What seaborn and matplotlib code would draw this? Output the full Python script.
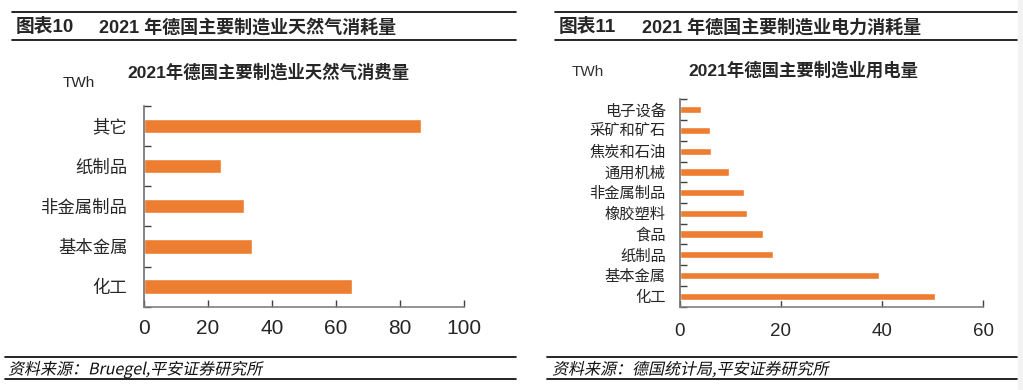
import matplotlib
matplotlib.use("Agg")
import matplotlib.pyplot as plt
import seaborn as sns
import pandas as pd
from matplotlib.lines import Line2D
from matplotlib.patches import PathPatch, Rectangle
from matplotlib.textpath import TextPath
from matplotlib.font_manager import FontProperties
from matplotlib.transforms import Affine2D, IdentityTransform
from matplotlib.ticker import FixedLocator

# data
gas_cats = ['其它', '纸制品', '非金属制品', '基本金属', '化工']
gas_vals = [86.5, 24.1, 31.3, 33.6, 64.9]

elec_cats = ['电子设备', '采矿和矿石', '焦炭和石油', '通用机械', '非金属制品',
             '橡胶塑料', '食品', '纸制品', '基本金属', '化工']
elec_vals = [4.3, 6.0, 6.2, 9.7, 12.8, 13.4, 16.4, 18.5, 39.4, 50.6]

sns.set_style("white")
plt.rcParams['font.family'] = ['Liberation Sans', 'Noto Sans CJK SC', 'DejaVu Sans']

ORANGE = '#ED7D31'

fig = plt.figure(figsize=(10.23, 3.9), dpi=100)


def fx(px):
    return px / 1023


def fy(py):
    return 1 - py / 390


def hline(x0, x1, y, lw=1.2):
    fig.add_artist(Line2D([fx(x0), fx(x1)], [fy(y), fy(y)], color='black', lw=lw,
                          transform=fig.transFigure))


def slanted_text(x, y, s, size_px):
    # fake italic for the CJK footer: skew the glyph outlines
    tp = TextPath((0, 0), s, size=size_px, prop=FontProperties(family='Noto Sans CJK SC'))
    tr = Affine2D().skew_deg(12, 0).translate(x, 390 - y - size_px * 0.38) + IdentityTransform()
    fig.add_artist(PathPatch(tp, transform=tr, facecolor='#111111', edgecolor='none'))


def style_axis(ax, n, xmax, step, lab_size, num_size, xpad, ypad):
    ax.set_ylim(n - 0.5, -0.5)
    ax.set_xlim(0, xmax)
    ax.set_xticks(range(0, xmax + 1, step))
    ax.yaxis.set_minor_locator(FixedLocator([i - 0.5 for i in range(n + 1)]))
    ax.tick_params(axis='y', which='major', length=0, pad=ypad, labelsize=lab_size)
    ax.tick_params(axis='y', which='minor', direction='in', length=5, width=1, color='#404040', left=True)
    ax.tick_params(axis='x', which='major', direction='in', length=5, width=1, color='#404040',
                   bottom=True, pad=xpad, labelsize=num_size)
    ax.set_xlabel('')
    ax.set_ylabel('')
    for s in ['top', 'right']:
        ax.spines[s].set_visible(False)
    ax.spines['left'].set_color('#707070')
    ax.spines['bottom'].set_color('#808080')
    ax.spines['left'].set_linewidth(1.2)
    ax.spines['bottom'].set_linewidth(1.2)


# left chart: natural gas
ax1 = fig.add_axes([fx(144), fy(306.7), fx(320), (306.7 - 105.7) / 390])
df1 = pd.DataFrame({'cat': gas_cats, 'val': gas_vals})
sns.barplot(data=df1, x='val', y='cat', orient='h', color=ORANGE, saturation=1,
            width=0.36, ax=ax1)
style_axis(ax1, len(gas_cats), 100, 20, 12.5, 15, 9, 12)

# right chart: electricity
ax2 = fig.add_axes([fx(679.7), fy(306.7), fx(303.3), (306.7 - 99.3) / 390])
df2 = pd.DataFrame({'cat': elec_cats, 'val': elec_vals})
sns.barplot(data=df2, x='val', y='cat', orient='h', color=ORANGE, saturation=1,
            width=0.35, ax=ax2)
style_axis(ax2, len(elec_cats), 60, 20, 11, 13.5, 12, 10)

# headers
hline(12, 516, 12)
hline(12, 516, 40)
hline(555, 1017, 12)
hline(555, 1017, 40)
fig.text(fx(16), fy(27.3), '图表10', fontsize=13.5, fontweight='bold', va='center')
fig.text(fx(99), fy(27.3), '2021 年德国主要制造业天然气消耗量', fontsize=13,
         fontweight='bold', va='center')
fig.text(fx(559), fy(27.3), '图表11', fontsize=13.5, fontweight='bold', va='center')
fig.text(fx(642), fy(27.3), '2021 年德国主要制造业电力消耗量', fontsize=13,
         fontweight='bold', va='center')

# chart titles and units
fig.text(fx(268), fy(71.7), '2021年德国主要制造业天然气消费量', fontsize=12.5,
         fontweight='bold', ha='center', va='center')
fig.text(fx(63), fy(83.3), 'TWh', fontsize=11, va='center')
fig.text(fx(803), fy(70), '2021年德国主要制造业用电量', fontsize=12.5,
         fontweight='bold', ha='center', va='center')
fig.text(fx(572), fy(71.7), 'TWh', fontsize=11, va='center', color='#333333')

# footers
hline(5, 516, 357)
hline(5, 516, 379)
hline(547, 1017, 357)
hline(547, 1017, 379)
slanted_text(8, 368.3, '资料来源：Bruegel,平安证券研究所', 16)
slanted_text(552, 368.3, '资料来源：德国统计局,平安证券研究所', 16)

# faint strip at the right edge of the page
fig.add_artist(Rectangle((fx(1018), 0), fx(5), 1, transform=fig.transFigure,
                         facecolor='#f2f2f2', edgecolor='none'))

fig.savefig('out.png', dpi=100, facecolor='white')
